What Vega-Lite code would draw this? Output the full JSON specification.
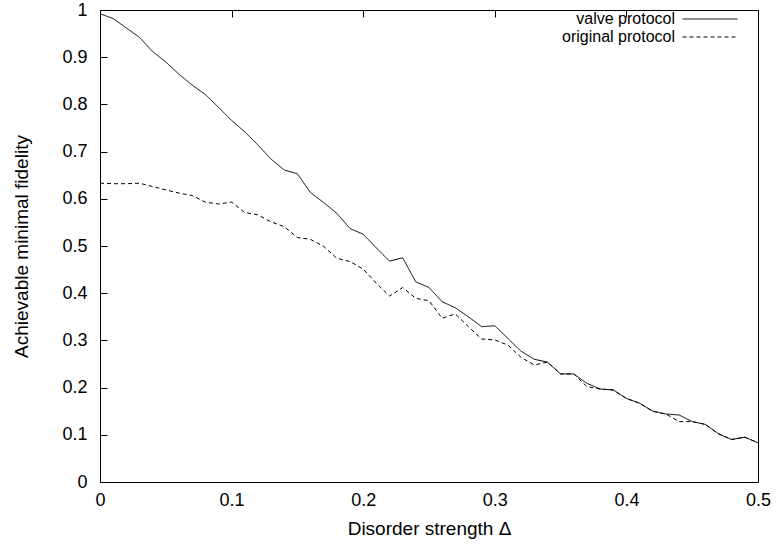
{
  "$schema": "https://vega.github.io/schema/vega-lite/v6.json",
  "width": 658,
  "height": 472,
  "autosize": {"type": "none"},
  "padding": {"left": 100, "top": 10, "right": 19, "bottom": 63},
  "background": "white",
  "config": {
    "font": "Liberation Sans",
    "view": {"stroke": "black", "strokeWidth": 1, "fill": "transparent"},
    "axis": {
      "domain": false,
      "grid": true,
      "gridColor": "black",
      "gridOpacity": 1,
      "gridWidth": 1,
      "gridDash": [7, 2000],
      "ticks": false,
      "labelFont": "Liberation Sans",
      "labelFontSize": 18,
      "labelColor": "black",
      "labelFlush": false,
      "labelOverlap": false,
      "titleFont": "Liberation Sans",
      "titleFontSize": 19,
      "titleFontWeight": "normal",
      "titleColor": "black"
    }
  },
  "data": {
    "values": [
      {"d": 0.00, "f": 0.992, "p": "valve protocol"},
      {"d": 0.01, "f": 0.982, "p": "valve protocol"},
      {"d": 0.02, "f": 0.962, "p": "valve protocol"},
      {"d": 0.03, "f": 0.942, "p": "valve protocol"},
      {"d": 0.04, "f": 0.912, "p": "valve protocol"},
      {"d": 0.05, "f": 0.890, "p": "valve protocol"},
      {"d": 0.06, "f": 0.864, "p": "valve protocol"},
      {"d": 0.07, "f": 0.841, "p": "valve protocol"},
      {"d": 0.08, "f": 0.821, "p": "valve protocol"},
      {"d": 0.09, "f": 0.794, "p": "valve protocol"},
      {"d": 0.10, "f": 0.766, "p": "valve protocol"},
      {"d": 0.11, "f": 0.742, "p": "valve protocol"},
      {"d": 0.12, "f": 0.714, "p": "valve protocol"},
      {"d": 0.13, "f": 0.684, "p": "valve protocol"},
      {"d": 0.14, "f": 0.661, "p": "valve protocol"},
      {"d": 0.15, "f": 0.653, "p": "valve protocol"},
      {"d": 0.16, "f": 0.613, "p": "valve protocol"},
      {"d": 0.17, "f": 0.592, "p": "valve protocol"},
      {"d": 0.18, "f": 0.569, "p": "valve protocol"},
      {"d": 0.19, "f": 0.537, "p": "valve protocol"},
      {"d": 0.20, "f": 0.525, "p": "valve protocol"},
      {"d": 0.21, "f": 0.496, "p": "valve protocol"},
      {"d": 0.22, "f": 0.468, "p": "valve protocol"},
      {"d": 0.23, "f": 0.475, "p": "valve protocol"},
      {"d": 0.24, "f": 0.424, "p": "valve protocol"},
      {"d": 0.25, "f": 0.412, "p": "valve protocol"},
      {"d": 0.26, "f": 0.382, "p": "valve protocol"},
      {"d": 0.27, "f": 0.369, "p": "valve protocol"},
      {"d": 0.28, "f": 0.350, "p": "valve protocol"},
      {"d": 0.29, "f": 0.329, "p": "valve protocol"},
      {"d": 0.30, "f": 0.331, "p": "valve protocol"},
      {"d": 0.31, "f": 0.304, "p": "valve protocol"},
      {"d": 0.32, "f": 0.277, "p": "valve protocol"},
      {"d": 0.33, "f": 0.260, "p": "valve protocol"},
      {"d": 0.34, "f": 0.254, "p": "valve protocol"},
      {"d": 0.35, "f": 0.229, "p": "valve protocol"},
      {"d": 0.36, "f": 0.229, "p": "valve protocol"},
      {"d": 0.37, "f": 0.209, "p": "valve protocol"},
      {"d": 0.38, "f": 0.197, "p": "valve protocol"},
      {"d": 0.39, "f": 0.195, "p": "valve protocol"},
      {"d": 0.40, "f": 0.177, "p": "valve protocol"},
      {"d": 0.41, "f": 0.167, "p": "valve protocol"},
      {"d": 0.42, "f": 0.150, "p": "valve protocol"},
      {"d": 0.43, "f": 0.144, "p": "valve protocol"},
      {"d": 0.44, "f": 0.142, "p": "valve protocol"},
      {"d": 0.45, "f": 0.128, "p": "valve protocol"},
      {"d": 0.46, "f": 0.122, "p": "valve protocol"},
      {"d": 0.47, "f": 0.102, "p": "valve protocol"},
      {"d": 0.48, "f": 0.090, "p": "valve protocol"},
      {"d": 0.49, "f": 0.095, "p": "valve protocol"},
      {"d": 0.50, "f": 0.083, "p": "valve protocol"},
      {"d": 0.00, "f": 0.633, "p": "original protocol"},
      {"d": 0.01, "f": 0.632, "p": "original protocol"},
      {"d": 0.02, "f": 0.632, "p": "original protocol"},
      {"d": 0.03, "f": 0.633, "p": "original protocol"},
      {"d": 0.04, "f": 0.626, "p": "original protocol"},
      {"d": 0.05, "f": 0.619, "p": "original protocol"},
      {"d": 0.06, "f": 0.612, "p": "original protocol"},
      {"d": 0.07, "f": 0.607, "p": "original protocol"},
      {"d": 0.08, "f": 0.593, "p": "original protocol"},
      {"d": 0.09, "f": 0.589, "p": "original protocol"},
      {"d": 0.10, "f": 0.593, "p": "original protocol"},
      {"d": 0.11, "f": 0.571, "p": "original protocol"},
      {"d": 0.12, "f": 0.566, "p": "original protocol"},
      {"d": 0.13, "f": 0.551, "p": "original protocol"},
      {"d": 0.14, "f": 0.541, "p": "original protocol"},
      {"d": 0.15, "f": 0.518, "p": "original protocol"},
      {"d": 0.16, "f": 0.514, "p": "original protocol"},
      {"d": 0.17, "f": 0.499, "p": "original protocol"},
      {"d": 0.18, "f": 0.474, "p": "original protocol"},
      {"d": 0.19, "f": 0.467, "p": "original protocol"},
      {"d": 0.20, "f": 0.451, "p": "original protocol"},
      {"d": 0.21, "f": 0.421, "p": "original protocol"},
      {"d": 0.22, "f": 0.394, "p": "original protocol"},
      {"d": 0.23, "f": 0.412, "p": "original protocol"},
      {"d": 0.24, "f": 0.389, "p": "original protocol"},
      {"d": 0.25, "f": 0.384, "p": "original protocol"},
      {"d": 0.26, "f": 0.347, "p": "original protocol"},
      {"d": 0.27, "f": 0.356, "p": "original protocol"},
      {"d": 0.28, "f": 0.329, "p": "original protocol"},
      {"d": 0.29, "f": 0.303, "p": "original protocol"},
      {"d": 0.30, "f": 0.301, "p": "original protocol"},
      {"d": 0.31, "f": 0.290, "p": "original protocol"},
      {"d": 0.32, "f": 0.264, "p": "original protocol"},
      {"d": 0.33, "f": 0.248, "p": "original protocol"},
      {"d": 0.34, "f": 0.254, "p": "original protocol"},
      {"d": 0.35, "f": 0.229, "p": "original protocol"},
      {"d": 0.36, "f": 0.229, "p": "original protocol"},
      {"d": 0.37, "f": 0.202, "p": "original protocol"},
      {"d": 0.38, "f": 0.197, "p": "original protocol"},
      {"d": 0.39, "f": 0.195, "p": "original protocol"},
      {"d": 0.40, "f": 0.177, "p": "original protocol"},
      {"d": 0.41, "f": 0.167, "p": "original protocol"},
      {"d": 0.42, "f": 0.150, "p": "original protocol"},
      {"d": 0.43, "f": 0.144, "p": "original protocol"},
      {"d": 0.44, "f": 0.128, "p": "original protocol"},
      {"d": 0.45, "f": 0.128, "p": "original protocol"},
      {"d": 0.46, "f": 0.122, "p": "original protocol"},
      {"d": 0.47, "f": 0.102, "p": "original protocol"},
      {"d": 0.48, "f": 0.090, "p": "original protocol"},
      {"d": 0.49, "f": 0.095, "p": "original protocol"},
      {"d": 0.50, "f": 0.083, "p": "original protocol"}
    ]
  },
  "layer": [
    {
      "mark": {"type": "line", "strokeWidth": 1, "color": "black", "clip": true},
      "encoding": {
        "x": {
          "field": "d", "type": "quantitative",
          "scale": {"domain": [0, 0.5], "nice": false, "zero": false},
          "axis": {"orient": "bottom", "title": "Disorder strength Δ", "values": [0, 0.1, 0.2, 0.3, 0.4, 0.5], "format": ".1~f", "labelPadding": 9, "titlePadding": 10}
        },
        "y": {
          "field": "f", "type": "quantitative",
          "scale": {"domain": [0, 1], "nice": false},
          "axis": {"orient": "left", "title": "Achievable minimal fidelity", "values": [0, 0.1, 0.2, 0.3, 0.4, 0.5, 0.6, 0.7, 0.8, 0.9, 1], "format": ".1~f", "labelPadding": 13, "titlePadding": 30}
        },
        "strokeDash": {
          "field": "p", "type": "nominal",
          "scale": {"domain": ["valve protocol", "original protocol"], "range": [[1, 0], [4, 3]]},
          "legend": {
            "title": null,
            "orient": "none",
            "legendX": 574.5,
            "legendY": 1,
            "padding": 0,
            "symbolType": "M0,0H10",
            "symbolSize": 121,
            "symbolStrokeWidth": 1,
            "symbolStrokeColor": "black",
            "rowPadding": 2,
            "labelAlign": "right",
            "labelOffset": -15.5,
            "labelFont": "Liberation Sans",
            "labelFontSize": 16,
            "labelColor": "black",
            "labelLimit": 300
          }
        }
      }
    },
    {
      "mark": {"type": "point", "opacity": 0},
      "encoding": {
        "x": {
          "field": "d", "type": "quantitative",
          "axis": {"orient": "top", "title": null, "labels": false, "values": [0, 0.1, 0.2, 0.3, 0.4, 0.5]}
        },
        "y": {
          "field": "f", "type": "quantitative",
          "axis": {"orient": "right", "title": null, "labels": false, "values": [0, 0.1, 0.2, 0.3, 0.4, 0.5, 0.6, 0.7, 0.8, 0.9, 1]}
        }
      }
    }
  ],
  "resolve": {"axis": {"x": "independent", "y": "independent"}}
}
